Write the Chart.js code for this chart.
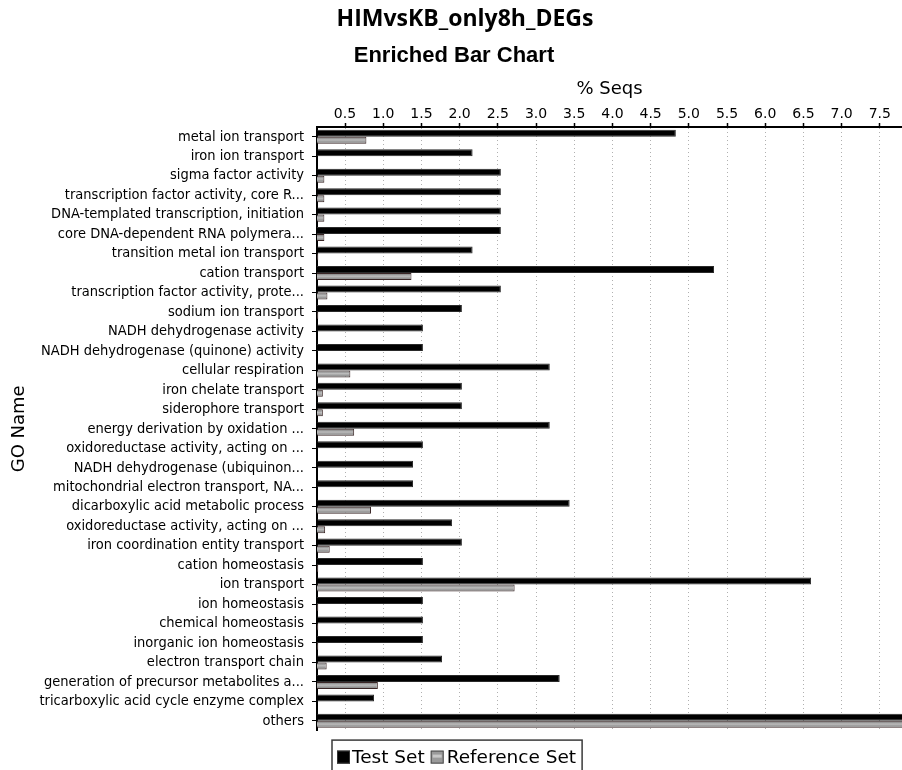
<!DOCTYPE html>
<html>
<head>
<meta charset="utf-8">
<title>HIMvsKB_only8h_DEGs</title>
<script src="https://cdn.jsdelivr.net/npm/chart.js@4.4.0/dist/chart.umd.min.js"></script>
<style>
  html, body { margin: 0; padding: 0; background: #ffffff; }
  canvas { display: block; }
</style>
</head>
<body>
<canvas id="chart" width="902" height="770"></canvas>
<script>
// GO terms, top to bottom
const categories = [
  'metal ion transport',
  'iron ion transport',
  'sigma factor activity',
  'transcription factor activity, core R...',
  'DNA-templated transcription, initiation',
  'core DNA-dependent RNA polymera...',
  'transition metal ion transport',
  'cation transport',
  'transcription factor activity, prote...',
  'sodium ion transport',
  'NADH dehydrogenase activity',
  'NADH dehydrogenase (quinone) activity',
  'cellular respiration',
  'iron chelate transport',
  'siderophore transport',
  'energy derivation by oxidation ...',
  'oxidoreductase activity, acting on ...',
  'NADH dehydrogenase (ubiquinon...',
  'mitochondrial electron transport, NA...',
  'dicarboxylic acid metabolic process',
  'oxidoreductase activity, acting on ...',
  'iron coordination entity transport',
  'cation homeostasis',
  'ion transport',
  'ion homeostasis',
  'chemical homeostasis',
  'inorganic ion homeostasis',
  'electron transport chain',
  'generation of precursor metabolites a...',
  'tricarboxylic acid cycle enzyme complex',
  'others'
];

// % of sequences in the test set
const testSet = [
  4.83, 2.17, 2.54, 2.54, 2.54, 2.54, 2.17, 5.33, 2.54, 2.03,
  1.52, 1.52, 3.18, 2.03, 2.03, 3.18, 1.52, 1.39, 1.39, 3.44,
  1.90, 2.03, 1.52, 6.60, 1.52, 1.52, 1.52, 1.77, 3.31, 0.88,
  7.90
];

// % of sequences in the reference set
const referenceSet = [
  0.78, 0, 0.23, 0.23, 0.23, 0.23, 0.15, 1.37, 0.27, 0.15,
  0, 0, 0.57, 0.21, 0.21, 0.62, 0, 0, 0, 0.84,
  0.24, 0.30, 0.15, 2.72, 0.15, 0.15, 0.15, 0.26, 0.93, 0,
  7.90
];

const tickValues = [0.5, 1.0, 1.5, 2.0, 2.5, 3.0, 3.5, 4.0, 4.5, 5.0, 5.5, 6.0, 6.5, 7.0, 7.5];
const axisMin = 0.1335;
const axisMax = 7.79;

const chartTitle = 'HIMvsKB_only8h_DEGs';
const chartSubtitle = 'Enriched Bar Chart';
const xAxisTitle = '% Seqs';
const yAxisTitle = 'GO Name';
const seriesNames = ['Test Set', 'Reference Set'];

const TEST_COLOR = '#000000';
const REF_COLOR = '#9a9a9a';
const CAT_PCT = 0.72;

// shaded grey fill for the reference bars (lighter stripe through the middle)
function referenceFill(c) {
  const chart = c.chart;
  const ys = chart.scales && chart.scales.y;
  if (!chart.chartArea || !ys || c.dataIndex === undefined) return REF_COLOR;
  const step = ys.height / categories.length;
  const cy = ys.getPixelForValue(c.dataIndex);
  const top = cy, bottom = cy + step * CAT_PCT / 2;
  const g = chart.ctx.createLinearGradient(0, top, 0, bottom);
  g.addColorStop(0, '#6e6e6e');
  g.addColorStop(0.45, '#bcbcbc');
  g.addColorStop(1, '#767676');
  return g;
}

// the two heading lines above the plot
const headingPlugin = {
  id: 'headings',
  afterDraw(chart) {
    const ctx = chart.ctx;
    ctx.save();
    ctx.fillStyle = '#000';
    ctx.textAlign = 'center';
    ctx.textBaseline = 'alphabetic';
    ctx.font = "bold 23px 'Open Sans', sans-serif";
    ctx.fillText(chartTitle, 465, 26);
    ctx.font = "bold 22px 'Liberation Sans', Arial, sans-serif";
    ctx.fillText(chartSubtitle, 454, 62);
    ctx.restore();
  }
};

// boxed legend under the plot
const boxedLegendPlugin = {
  id: 'boxedLegend',
  afterDraw(chart) {
    const ctx = chart.ctx;
    const area = chart.chartArea;
    const top = area.bottom + 9.5;
    const left = 332;
    ctx.save();
    ctx.font = "18.5px 'DejaVu Sans', sans-serif";
    ctx.textBaseline = 'alphabetic';
    ctx.textAlign = 'left';
    let x = left + 5;
    const sq = 13;
    const items = [
      { label: seriesNames[0], fill: TEST_COLOR, stroke: '#333', gap: 2 },
      { label: seriesNames[1], fill: REF_COLOR, stroke: '#4a4a4a', gap: 3 }
    ];
    const sqTop = top + 10.5;
    const base = top + 23;
    items.forEach((it, i) => {
      ctx.fillStyle = it.fill;
      ctx.fillRect(x, sqTop, sq, sq);
      ctx.lineWidth = 1;
      ctx.strokeStyle = it.stroke;
      ctx.strokeRect(x + 0.5, sqTop + 0.5, sq - 1, sq - 1);
      if (i === 1) {
        ctx.fillStyle = '#c8c8c8';
        ctx.fillRect(x + 2, sqTop + 4, sq - 4, 3);
      }
      x += sq + it.gap;
      ctx.fillStyle = '#000';
      ctx.fillText(it.label, x, base);
      x += ctx.measureText(it.label).width + 6;
    });
    ctx.strokeStyle = '#3a3a3a';
    ctx.lineWidth = 1.5;
    ctx.strokeRect(left, top, x - left, 40);
    ctx.restore();
  }
};

new Chart(document.getElementById('chart'), {
  type: 'bar',
  data: {
    labels: categories,
    datasets: [
      {
        label: seriesNames[0],
        data: testSet,
        backgroundColor: TEST_COLOR,
        borderColor: '#2a2a2a',
        borderWidth: 1,
        categoryPercentage: CAT_PCT,
        barPercentage: 1.0
      },
      {
        label: seriesNames[1],
        data: referenceSet,
        backgroundColor: referenceFill,
        borderColor: '#3a2626',
        borderWidth: 1,
        categoryPercentage: CAT_PCT,
        barPercentage: 1.0
      }
    ]
  },
  options: {
    indexAxis: 'y',
    responsive: false,
    devicePixelRatio: 1,
    animation: false,
    layout: { padding: { top: 76, left: 0, right: 0, bottom: 39.4 } },
    plugins: {
      legend: { display: false },
      title: { display: false },
      tooltip: { enabled: false }
    },
    scales: {
      x: {
        type: 'linear',
        position: 'top',
        min: axisMin,
        max: axisMax,
        afterBuildTicks(scale) {
          scale.ticks = tickValues.map(v => ({ value: v }));
        },
        afterFit(scale) { scale.height = 51; },
        ticks: {
          autoSkip: false,
          maxRotation: 0,
          padding: 0,
          color: '#000',
          font: { family: "'DejaVu Sans', sans-serif", size: 14 },
          callback: v => Number(v).toFixed(1)
        },
        grid: {
          color: '#b0b0b0',
          lineWidth: 1,
          drawTicks: true,
          tickLength: 4,
          tickColor: '#000',
          tickWidth: 1.5,
          tickBorderDash: []
        },
        border: { display: true, color: '#000', width: 2, dash: [1, 3] },
        title: {
          display: true,
          text: xAxisTitle,
          color: '#000',
          font: { family: "'DejaVu Sans', sans-serif", size: 18 },
          padding: { top: 3, bottom: 0 }
        }
      },
      y: {
        type: 'category',
        afterFit(scale) { scale.width = 317; },
        ticks: {
          autoSkip: false,
          padding: 8,
          color: '#000',
          font: { family: "'DejaVu Sans Condensed', 'DejaVu Sans', sans-serif", size: 14.5 }
        },
        grid: {
          drawOnChartArea: false,
          offset: false,
          drawTicks: true,
          tickLength: 5,
          tickColor: '#000',
          tickWidth: 1
        },
        border: { display: true, color: '#000', width: 2 },
        title: {
          display: true,
          text: yAxisTitle,
          color: '#000',
          font: { family: "'DejaVu Sans', sans-serif", size: 18 },
          padding: { top: 9, bottom: 0 }
        }
      }
    }
  },
  plugins: [headingPlugin, boxedLegendPlugin]
});
</script>
</body>
</html>
